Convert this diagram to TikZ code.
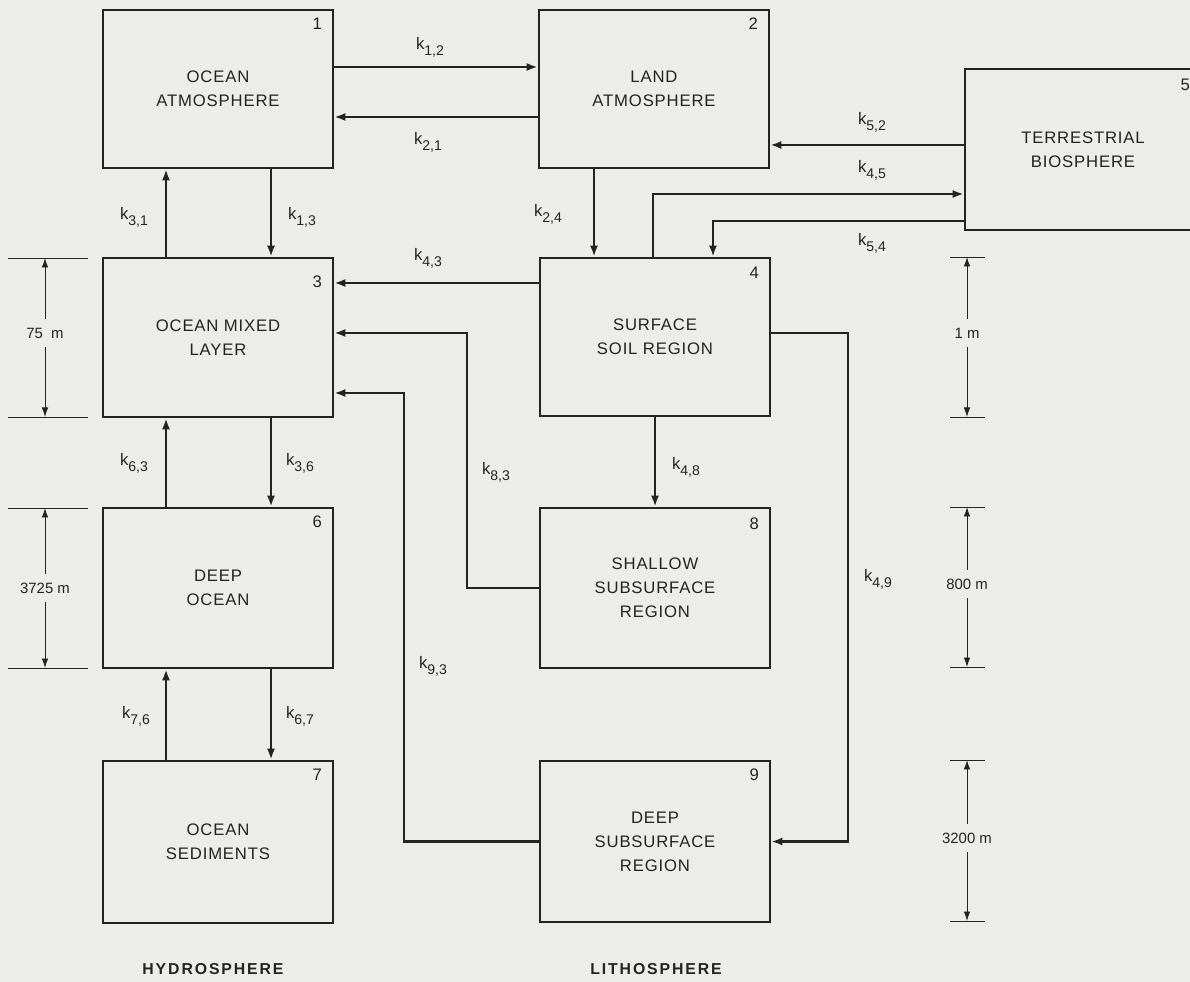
\documentclass[tikz,border=0pt]{standalone}
\usepackage{fontspec}
\setmainfont{Liberation Sans}
\newfontfamily\spacedfont[LetterSpace=5]{Liberation Sans}
\newfontfamily\widefont[LetterSpace=12]{Liberation Sans}
\usetikzlibrary{arrows.meta,positioning}
\definecolor{paper}{RGB}{236,236,233}
\definecolor{ink}{RGB}{35,35,35}
\newcommand{\kk}[1]{k\raisebox{-3.4pt}{\fontsize{8}{8}\selectfont #1}}

\begin{document}
\begin{tikzpicture}[
  x=0.02cm, y=-0.02cm,
  every node/.style={text=ink},
  box/.style={draw=ink, line width=1.5pt, minimum width=4.6cm, align=center, inner sep=0pt, font=\spacedfont\fontsize{9.5}{13.6}\selectfont},
  num/.style={font=\fontsize{9.5}{10}\selectfont, inner sep=0pt},
  klab/.style={font=\fontsize{9.5}{10}\selectfont, inner sep=0pt},
  flow/.style={-{Latex[length=2.2mm,width=1.6mm]}, draw=ink, line width=1.6pt},
  dimlab/.style={font=\fontsize{8.5}{10}\selectfont, inner xsep=0pt, inner ysep=0.17cm},
  dim/.style={-{Latex[length=1.9mm,width=1.3mm]}, draw=ink, line width=0.5pt},
  tick/.style={draw=ink, line width=0.5pt},
  zone/.style={font=\widefont\bfseries\fontsize{9}{10}\selectfont}
]
\useasboundingbox (0,0) rectangle (1190,982);
\fill[paper] (0,0) rectangle (1190,982);

% reservoirs
\node[box, minimum height=3.16cm] (ocat) at (218,89) {OCEAN\\ATMOSPHERE};
\node[box, minimum height=3.16cm] (ldat) at (654,89) {LAND\\ATMOSPHERE};
\node[box, minimum width=4.72cm, minimum height=3.22cm] (terr) at (1083,149.5) {TERRESTRIAL\\BIOSPHERE};
\node[box, minimum height=3.18cm] (mix) at (218,337.5) {OCEAN MIXED\\LAYER};
\node[box, minimum height=3.16cm] (soil) at (655,337) {SURFACE\\SOIL REGION};
\node[box, minimum height=3.2cm] (deep) at (218,588) {DEEP\\OCEAN};
\node[box, minimum height=3.2cm] (shal) at (655,588) {SHALLOW\\SUBSURFACE\\REGION};
\node[box, minimum height=3.24cm] (sed) at (218,842) {OCEAN\\SEDIMENTS};
\node[box, minimum height=3.22cm] (dsub) at (655,841.5) {DEEP\\SUBSURFACE\\REGION};

% compartment numbers
\node[num] (n1) at ([shift={(-17,15)}]ocat.north east) {1};
\node[num] (n2) at ([shift={(-17,15)}]ldat.north east) {2};
\node[num] (n3) at ([shift={(-17,25)}]mix.north east) {3};
\node[num] (n4) at ([shift={(-17,16)}]soil.north east) {4};
\node[num] (n5) at ([shift={(-17,17)}]terr.north east) {5};
\node[num] (n6) at ([shift={(-17,15)}]deep.north east) {6};
\node[num] (n7) at ([shift={(-17,15)}]sed.north east) {7};
\node[num] (n8) at ([shift={(-17,17)}]shal.north east) {8};
\node[num] (n9) at ([shift={(-17,15)}]dsub.north east) {9};

% bends
\coordinate (c45) at (653,194);
\coordinate (c54) at (713,221);
\coordinate (c83) at (467,333);
\coordinate (c93) at (404,393);
\coordinate (c49) at (848,333);

% transfers
\draw[flow] (ocat.east |- 0,67) -- (ldat.west |- 0,67);
\draw[flow] (ldat.west |- 0,117) -- (ocat.east |- 0,117);
\draw[flow] (terr.west |- 0,145) -- (ldat.east |- 0,145);
\draw[flow] (soil.north -| c45) -- (c45) -- (terr.west |- c45);
\draw[flow] (terr.west |- c54) -- (c54) -- (soil.north -| c54);
\draw[flow] (ldat.south -| 594,0) -- (soil.north -| 594,0);
\draw[flow] (mix.north -| 166,0) -- (ocat.south -| 166,0);
\draw[flow] (ocat.south -| 271,0) -- (mix.north -| 271,0);
\draw[flow] (soil.west |- 0,283) -- (mix.east |- 0,283);
\draw[flow] (shal.west) -| (c83) -- (mix.east |- c83);
\draw[flow] (dsub.west) -| (c93) -- (mix.east |- c93);
\draw[flow] (soil.east |- c49) -- (c49) |- (dsub.east);
\draw[flow] (soil.south) -- (shal.north);
\draw[flow] (deep.north -| 166,0) -- (mix.south -| 166,0);
\draw[flow] (mix.south -| 271,0) -- (deep.north -| 271,0);
\draw[flow] (sed.north -| 166,0) -- (deep.south -| 166,0);
\draw[flow] (deep.south -| 271,0) -- (sed.north -| 271,0);

% rate constants
\node[klab] (k12) at (430,47) {\kk{1,2}};
\node[klab] (k21) at (428,142) {\kk{2,1}};
\node[klab] (k52) at (872,122) {\kk{5,2}};
\node[klab] (k45) at (872,170) {\kk{4,5}};
\node[klab] (k54) at (872,243) {\kk{5,4}};
\node[klab] (k24) at (548,214) {\kk{2,4}};
\node[klab] (k31) at (134,217) {\kk{3,1}};
\node[klab] (k13) at (302,217) {\kk{1,3}};
\node[klab] (k43) at (428,258) {\kk{4,3}};
\node[klab] (k63) at (134,463) {\kk{6,3}};
\node[klab] (k36) at (300,463) {\kk{3,6}};
\node[klab] (k83) at (496,472) {\kk{8,3}};
\node[klab] (k48) at (686,467) {\kk{4,8}};
\node[klab] (k49) at (878,579) {\kk{4,9}};
\node[klab] (k93) at (433,666) {\kk{9,3}};
\node[klab] (k76) at (136,716) {\kk{7,6}};
\node[klab] (k67) at (300,716) {\kk{6,7}};

% depths
\coordinate (t75a) at (45,258);   \coordinate (t75b) at (45,417);
\coordinate (t3725a) at (45,508); \coordinate (t3725b) at (45,668);
\coordinate (t1a) at (967,257);   \coordinate (t1b) at (967,417);
\coordinate (t800a) at (967,507); \coordinate (t800b) at (967,667);
\coordinate (t3200a) at (967,760);\coordinate (t3200b) at (967,921);
\node[dimlab] (d75) at (45,333) {75\ \ m};
\node[dimlab] (d3725) at (45,588) {3725 m};
\node[dimlab] (d1) at (967,333) {1 m};
\node[dimlab] (d800) at (967,584) {800 m};
\node[dimlab] (d3200) at (967,838) {3200 m};
\draw[dim] (d75) -- (t75a);     \draw[dim] (d75) -- (t75b);
\draw[dim] (d3725) -- (t3725a); \draw[dim] (d3725) -- (t3725b);
\draw[dim] (d1) -- (t1a);       \draw[dim] (d1) -- (t1b);
\draw[dim] (d800) -- (t800a);   \draw[dim] (d800) -- (t800b);
\draw[dim] (d3200) -- (t3200a); \draw[dim] (d3200) -- (t3200b);
\draw[tick] ([shift={(-37,0)}]t75a) -- ([shift={(43,0)}]t75a);
\draw[tick] ([shift={(-37,0)}]t75b) -- ([shift={(43,0)}]t75b);
\draw[tick] ([shift={(-37,0)}]t3725a) -- ([shift={(43,0)}]t3725a);
\draw[tick] ([shift={(-37,0)}]t3725b) -- ([shift={(43,0)}]t3725b);
\draw[tick] ([shift={(-17,0)}]t1a) -- ([shift={(18,0)}]t1a);
\draw[tick] ([shift={(-17,0)}]t1b) -- ([shift={(18,0)}]t1b);
\draw[tick] ([shift={(-17,0)}]t800a) -- ([shift={(18,0)}]t800a);
\draw[tick] ([shift={(-17,0)}]t800b) -- ([shift={(18,0)}]t800b);
\draw[tick] ([shift={(-17,0)}]t3200a) -- ([shift={(18,0)}]t3200a);
\draw[tick] ([shift={(-17,0)}]t3200b) -- ([shift={(18,0)}]t3200b);

% spheres
\node[zone] (hydro) at (213,969) {HYDROSPHERE};
\node[zone] (litho) at (656,969) {LITHOSPHERE};
\end{tikzpicture}
\end{document}
